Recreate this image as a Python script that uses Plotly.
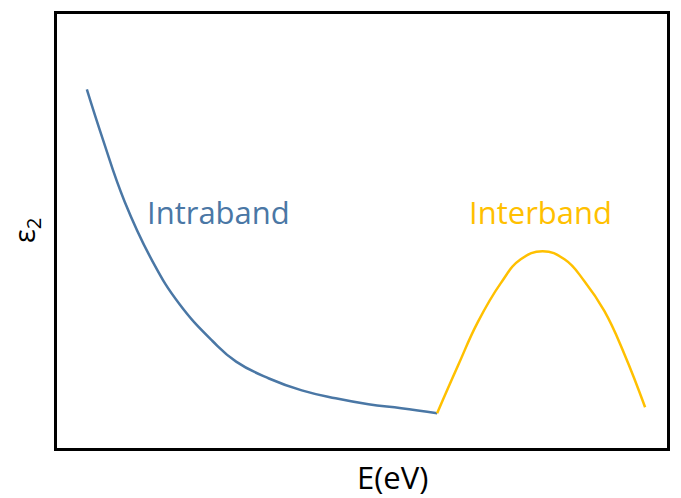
import plotly.graph_objects as go

# values (arbitrary units, the axes carry no ticks)
e_intra = [30, 46, 68, 96, 123, 156, 180, 213, 246, 280, 313, 346, 382]
eps_intra = [361, 311, 248, 188, 145, 108, 87, 70, 58, 50, 44, 40, 35]

e_inter = [382, 403, 423, 446, 466, 488, 510, 530, 550, 570, 591]
eps_inter = [35, 83, 127, 166, 190, 198, 190, 168, 138, 95, 41]

BLUE = '#4a77a5'
GOLD = '#ffc000'
FONT = 'Open Sans'

fig = go.Figure()

fig.add_trace(go.Scatter(
    x=e_intra, y=eps_intra, mode='lines', hoverinfo='skip',
    line=dict(color=BLUE, width=2.5, shape='spline', smoothing=1.3), showlegend=False
))
fig.add_trace(go.Scatter(
    x=e_inter, y=eps_inter, mode='lines', hoverinfo='skip',
    line=dict(color=GOLD, width=2.5, shape='spline', smoothing=1.3), showlegend=False
))

# curve labels
fig.add_annotation(x=162, y=238, text='Intraband', showarrow=False,
                   font=dict(family=FONT, size=31, color=BLUE))
fig.add_annotation(x=486, y=238, text='Interband', showarrow=False,
                   font=dict(family=FONT, size=31, color=GOLD))

# axis titles as annotations so the margins stay put
fig.add_annotation(xref='paper', yref='paper', x=0.55, y=0, yshift=-29,
                   xanchor='center', yanchor='middle',
                   text='E(eV)', showarrow=False,
                   font=dict(family=FONT, size=31, color='black'))
fig.add_annotation(xref='paper', yref='paper', x=0, y=0.5, xshift=-32,
                   xanchor='center', yanchor='middle',
                   text='ε<sub>2</sub>', textangle=-90, showarrow=False,
                   font=dict(family=FONT, size=29, color='black'))

fig.update_layout(
    width=681, height=498,
    margin=dict(l=57, r=11, t=11, b=50),
    plot_bgcolor='white', paper_bgcolor='white',
    font=dict(family=FONT, color='black'),
    hovermode=False,
)
fig.update_xaxes(
    range=[0, 613], showticklabels=False, ticks='', showgrid=False, zeroline=False,
    showline=True, mirror=True, linecolor='black', linewidth=2.5
)
fig.update_yaxes(
    range=[0, 437], showticklabels=False, ticks='', showgrid=False, zeroline=False,
    showline=True, mirror=True, linecolor='black', linewidth=2.5
)

# drop the default 8px body margin so the figure sits at the window's corner
fig.write_html('out.html', config={'displayModeBar': False},
               post_script="document.body.style.margin='0';")
